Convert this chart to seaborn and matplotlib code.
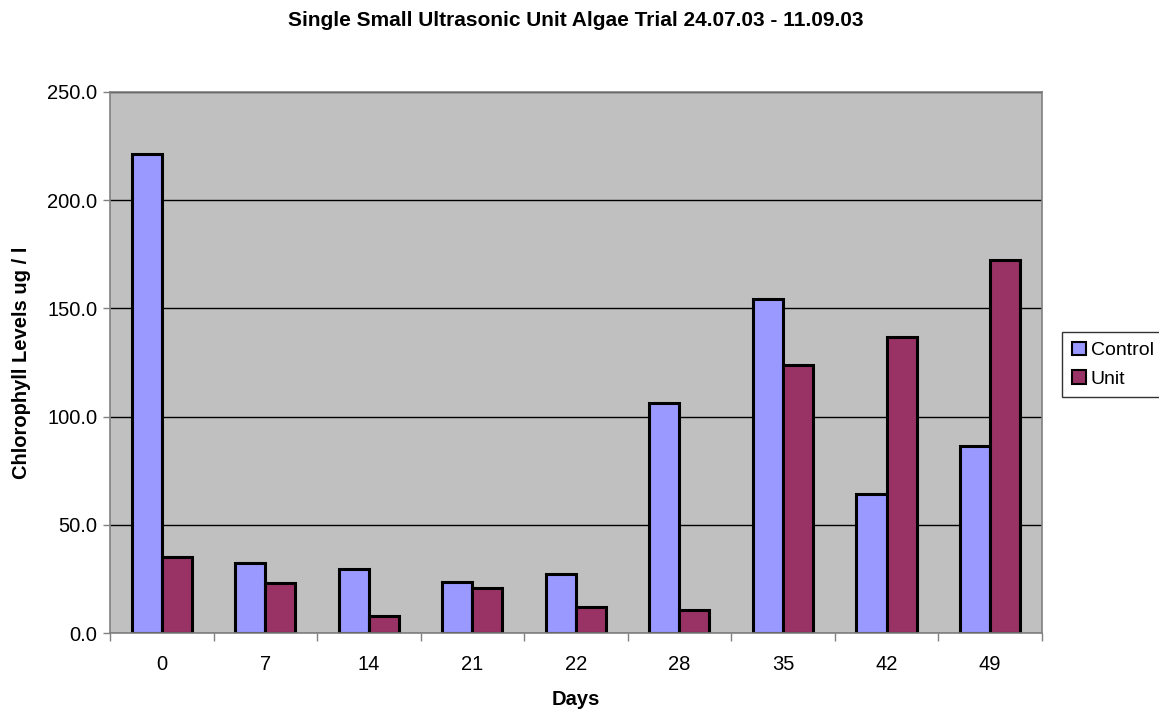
import numpy as np
import pandas as pd
import seaborn as sns
import matplotlib.pyplot as plt
from matplotlib.ticker import FixedLocator

days = ["0", "7", "14", "21", "22", "28", "35", "42", "49"]
control = [221.4, 32.6, 29.6, 23.7, 27.1, 106.4, 154.2, 64.2, 86.5]
unit = [35.2, 23.3, 7.9, 20.8, 12.3, 10.5, 123.7, 136.9, 172.4]

df = pd.DataFrame({
    "Days": days * 2,
    "Level": control + unit,
    "Series": ["Control"] * len(days) + ["Unit"] * len(days),
})

sns.set_style("white")
plt.rcParams["font.family"] = ["Liberation Sans", "DejaVu Sans"]
plt.rcParams["text.color"] = "black"
plt.rcParams["axes.labelcolor"] = "black"
plt.rcParams["xtick.color"] = "black"
plt.rcParams["ytick.color"] = "black"

fig = plt.figure(figsize=(11.59, 7.13), dpi=100)
ax = fig.add_axes([0.0949, 0.112, 0.804, 0.759])
ax.set_facecolor("#C0C0C0")

sns.barplot(data=df, x="Days", y="Level", hue="Series", order=days,
            palette={"Control": "#9999FF", "Unit": "#993366"}, saturation=1,
            width=0.58, edgecolor="black", linewidth=2.2, ax=ax)

ax.set_ylim(0, 250)
ax.set_xlim(-0.5, len(days) - 0.5)
ax.set_yticks(np.arange(0, 251, 50))
ax.set_yticklabels([f"{v:.1f}" for v in np.arange(0, 251, 50)], fontsize=14.5)
ax.yaxis.grid(True, color="black", linewidth=1)
ax.set_axisbelow(True)
ax.tick_params(axis="y", length=5, width=1, color="#808080", direction="out", left=True, pad=4)
ax.tick_params(axis="x", which="major", length=0, labelsize=14.5, pad=16)
ax.xaxis.set_minor_locator(FixedLocator(np.arange(-0.5, len(days), 1)))
ax.tick_params(axis="x", which="minor", length=6, width=1, color="#808080", bottom=True)

for s in ax.spines.values():
    s.set_color("#808080")
    s.set_linewidth(1.2)

ax.set_xlabel("Days", fontsize=14.5, fontweight="bold", labelpad=11)
ax.set_ylabel("Chlorophyll Levels ug / l", fontsize=14.5, fontweight="bold", labelpad=12)
fig.text(0.497, 0.971, "Single Small Ultrasonic Unit Algae Trial 24.07.03 - 11.09.03",
         ha="center", va="center", fontsize=15, fontweight="bold")

leg = ax.legend(loc="center left", bbox_to_anchor=(1.022, 0.496), frameon=True,
                fancybox=False, fontsize=14, handlelength=0.7, handleheight=0.7,
                handletextpad=0.25, borderpad=0.5, labelspacing=0.55, borderaxespad=0)
leg.get_frame().set_edgecolor("black")
leg.get_frame().set_linewidth(1)
for h in leg.legend_handles:
    h.set_linewidth(1.5)

fig.savefig("out.png", dpi=100, facecolor="white")
